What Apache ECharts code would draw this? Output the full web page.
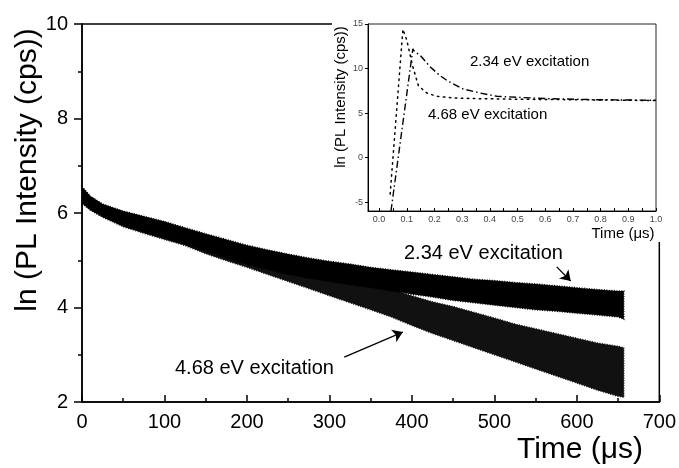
<!DOCTYPE html>
<html>
<head>
<meta charset="utf-8">
<script src="https://cdn.jsdelivr.net/npm/echarts@6/dist/echarts.min.js"></script>
<style>
html, body { margin: 0; padding: 0; background: #fff; }
#chart { width: 679px; height: 468px; }
</style>
</head>
<body>
<div id="chart"></div>
<script>
// main panel: time (µs) and the edges of the noisy bands, ln(cps)
var timeUs = [0, 10, 25, 50, 75, 100, 125, 150, 175, 200, 225, 250, 275, 300, 325, 350, 375, 400, 425, 450, 475, 500, 525, 550, 575, 600, 625, 650, 657];
var top234 = [6.56, 6.36, 6.19, 6.04, 5.93, 5.82, 5.69, 5.56, 5.44, 5.32, 5.22, 5.13, 5.05, 4.98, 4.92, 4.85, 4.80, 4.75, 4.70, 4.65, 4.60, 4.57, 4.53, 4.50, 4.46, 4.42, 4.38, 4.35, 4.35];
var bottom234 = [6.22, 6.08, 5.93, 5.73, 5.59, 5.47, 5.34, 5.19, 5.04, 4.91, 4.80, 4.70, 4.62, 4.55, 4.48, 4.42, 4.35, 4.28, 4.22, 4.15, 4.10, 4.05, 4.00, 3.95, 3.92, 3.88, 3.84, 3.80, 3.75];
var top468 = [6.52, 6.34, 6.17, 6.02, 5.91, 5.80, 5.66, 5.53, 5.40, 5.28, 5.15, 5.02, 4.88, 4.75, 4.62, 4.50, 4.38, 4.25, 4.12, 4.02, 3.90, 3.78, 3.65, 3.55, 3.45, 3.35, 3.25, 3.18, 3.15];
var bottom468 = [6.20, 6.06, 5.91, 5.71, 5.57, 5.44, 5.31, 5.14, 4.99, 4.85, 4.70, 4.55, 4.40, 4.25, 4.10, 3.95, 3.80, 3.62, 3.45, 3.30, 3.15, 3.00, 2.85, 2.70, 2.55, 2.40, 2.25, 2.12, 2.10];

// inset: first microsecond
var insetTime234 = [0.043, 0.122, 0.128, 0.148, 0.184, 0.220, 0.250, 0.304, 0.365, 0.425, 0.497, 0.605, 0.786, 1.0];
var inset234 = [-6, 12.2, 11.9, 11.5, 10.2, 9.2, 8.56, 7.7, 7.25, 6.88, 6.77, 6.62, 6.5, 6.43];
var insetTime468 = [0.040, 0.086, 0.100, 0.122, 0.142, 0.172, 0.208, 0.268, 0.35, 0.5, 0.7, 1.0];
var inset468 = [-4.1, 14.4, 13.2, 10.2, 8.07, 7.26, 6.88, 6.70, 6.62, 6.55, 6.5, 6.4];
var insetXTicks = [0, 0.05, 0.1, 0.15, 0.2, 0.25, 0.3, 0.35, 0.4, 0.45, 0.5, 0.55, 0.6, 0.65, 0.7, 0.75, 0.8, 0.85, 0.9, 0.95, 1.0];
var insetXLabels = [0, 0.1, 0.2, 0.3, 0.4, 0.5, 0.6, 0.7, 0.8, 0.9, 1.0];
var insetYLabels = [-5, 0, 5, 10, 15];

var FONT = 'Liberation Sans, Arial, sans-serif';

function pairs(xs, ys) {
    return xs.map(function (x, i) { return [x, ys[i]]; });
}

// a black band between bottom and top edge, one polygon through the axes
function band(name, tops, bottoms, fill) {
    return {
        name: name, type: 'custom', xAxisIndex: 0, yAxisIndex: 0, z: 2, clip: true,
        data: timeUs.map(function (t, i) { return [t, tops[i], bottoms[i]]; }),
        encode: { x: 0, y: [1, 2] },
        renderItem: function (params, api) {
            if (params.dataIndex !== 0) return null;
            var pts = [];
            for (var i = 0; i < timeUs.length; i++) pts.push(api.coord([timeUs[i], tops[i]]));
            for (var j = timeUs.length - 1; j >= 0; j--) pts.push(api.coord([timeUs[j], bottoms[j]]));
            return {
                type: 'polygon',
                shape: { points: pts },
                style: { fill: fill, stroke: fill, lineWidth: 1.4, lineDash: [1, 1.5] }
            };
        }
    };
}

var myChart = echarts.init(document.getElementById('chart'));

var option = {
    animation: false,
    backgroundColor: '#fff',
    grid: [
        { left: 82, top: 24, right: 18, bottom: 66, show: true, borderColor: '#000', borderWidth: 1.5, backgroundColor: 'transparent' },
        { left: 368, top: 24, right: 23, bottom: 257, show: true, borderColor: '#222', borderWidth: 1, backgroundColor: '#fff', z: 10 }
    ],
    xAxis: [
        {
            type: 'value', gridIndex: 0, min: 0, max: 700, interval: 100,
            axisLine: { show: true, onZero: false, lineStyle: { color: '#000', width: 1.5 } },
            axisTick: { show: true, inside: true, length: 7, lineStyle: { color: '#000', width: 1.5 } },
            minorTick: { show: true, splitNumber: 2, length: 4, lineStyle: { color: '#000', width: 1.5 } },
            axisLabel: { color: '#000', fontSize: 20, fontFamily: FONT, margin: 10 },
            splitLine: { show: false }
        },
        {
            type: 'value', gridIndex: 1, min: -0.04, max: 1.0, z: 10,
            axisLine: { show: true, onZero: false, lineStyle: { color: '#000', width: 1 } },
            axisTick: { show: true, inside: true, length: 3, customValues: insetXTicks, lineStyle: { color: '#000', width: 1 } },
            axisLabel: {
                color: '#444', fontSize: 9, fontFamily: FONT, margin: 4, customValues: insetXLabels,
                formatter: function (v) { return v.toFixed(1); }
            },
            splitLine: { show: false }
        }
    ],
    yAxis: [
        {
            type: 'value', gridIndex: 0, min: 2, max: 10, interval: 2,
            axisLine: { show: true, onZero: false, lineStyle: { color: '#000', width: 1.5 } },
            axisTick: { show: true, length: 8, lineStyle: { color: '#000', width: 1.5 } },
            minorTick: { show: true, splitNumber: 2, length: 4, lineStyle: { color: '#000', width: 1.5 } },
            axisLabel: { color: '#000', fontSize: 20, fontFamily: FONT, margin: 14 },
            splitLine: { show: false }
        },
        {
            type: 'value', gridIndex: 1, min: -6, max: 15, z: 10,
            axisLine: { show: true, onZero: false, lineStyle: { color: '#000', width: 1 } },
            axisTick: { show: true, length: 3, customValues: insetYLabels, lineStyle: { color: '#000', width: 1 } },
            axisLabel: { color: '#444', fontSize: 9, fontFamily: FONT, margin: 5, customValues: insetYLabels },
            splitLine: { show: false }
        }
    ],
    series: [
        band('4.68 eV', top468, bottom468, '#111'),
        band('2.34 eV', top234, bottom234, '#000'),
        {
            // arrows of the main panel
            name: 'arrows', type: 'line', data: [], xAxisIndex: 0, yAxisIndex: 0, z: 6,
            markLine: {
                silent: true, symbol: ['none', 'arrow'], symbolSize: 10,
                label: { show: false },
                lineStyle: { color: '#000', width: 1.3, type: 'solid' },
                data: [
                    [{ coord: [575.6, 4.86] }, { coord: [592.5, 4.56] }],
                    [{ coord: [318, 2.95] }, { coord: [389, 3.48] }]
                ]
            }
        },
        {
            name: 'inset 4.68 eV', type: 'line', xAxisIndex: 1, yAxisIndex: 1, z: 11,
            symbol: 'none', data: pairs(insetTime468, inset468),
            lineStyle: { color: '#000', width: 1.5, type: [1.5, 4.5], cap: 'round' }
        },
        {
            name: 'inset 2.34 eV', type: 'line', xAxisIndex: 1, yAxisIndex: 1, z: 11,
            symbol: 'none', data: pairs(insetTime234, inset234),
            lineStyle: { color: '#000', width: 1.4, type: [7, 3, 1.5, 3] },
            markLine: {
                silent: true, symbol: ['none', 'arrow'], symbolSize: 7,
                label: { show: false },
                lineStyle: { color: '#000', width: 0.8, type: 'solid' },
                data: [[{ coord: [0.321, 10.64] }, { coord: [0.249, 8.74] }]]
            }
        }
    ],
    graphic: [
        { type: 'rect', shape: { x: 332, y: 0, width: 347, height: 242 }, style: { fill: '#fff' }, z: 5, silent: true },
        {
            type: 'text', x: 28, y: 170, rotation: Math.PI / 2, z: 6,
            style: { text: 'ln (PL Intensity (cps))', fill: '#000', font: '30px ' + FONT, align: 'center', verticalAlign: 'middle' }
        },
        {
            type: 'text', x: 580, y: 450, z: 6,
            style: { text: 'Time (\u03bcs)', fill: '#000', font: '30px ' + FONT, align: 'center', verticalAlign: 'middle' }
        },
        {
            type: 'text', x: 404, y: 253, z: 6,
            style: { text: '2.34 eV excitation', fill: '#000', font: '20px ' + FONT, align: 'left', verticalAlign: 'middle' }
        },
        {
            type: 'text', x: 175, y: 368, z: 6,
            style: { text: '4.68 eV excitation', fill: '#000', font: '20px ' + FONT, align: 'left', verticalAlign: 'middle' }
        },
        {
            type: 'text', x: 341, y: 97, rotation: Math.PI / 2, z: 12,
            style: { text: 'ln (PL Intensity (cps))', fill: '#000', font: '15px ' + FONT, align: 'center', verticalAlign: 'middle' }
        },
        {
            type: 'text', x: 623, y: 234, z: 12,
            style: { text: 'Time (\u03bcs)', fill: '#000', font: '15px ' + FONT, align: 'center', verticalAlign: 'middle' }
        },
        {
            type: 'text', x: 470, y: 62, z: 12,
            style: { text: '2.34 eV excitation', fill: '#000', font: '15px ' + FONT, align: 'left', verticalAlign: 'middle' }
        },
        {
            type: 'text', x: 428, y: 115, z: 12,
            style: { text: '4.68 eV excitation', fill: '#000', font: '15px ' + FONT, align: 'left', verticalAlign: 'middle' }
        }
    ]
};

myChart.setOption(option);
window.addEventListener('resize', function () {
    myChart.resize();
});
</script>
</body>
</html>
